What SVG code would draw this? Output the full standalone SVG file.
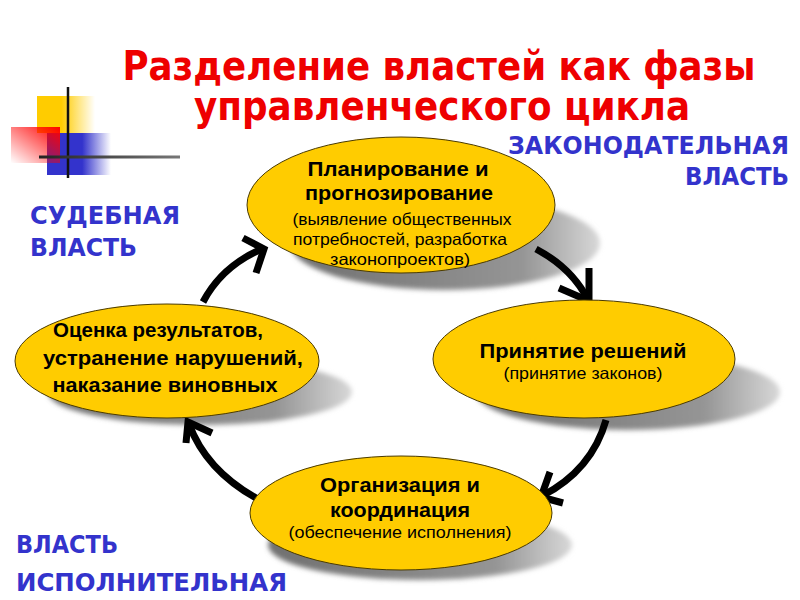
<svg xmlns="http://www.w3.org/2000/svg" width="800" height="600" viewBox="0 0 800 600">
<defs>
<linearGradient id="gY" x1="0" y1="0" x2="1" y2="0"><stop offset="0.42" stop-color="#FFCC00"/><stop offset="1" stop-color="#FFCC00" stop-opacity="0"/></linearGradient>
<linearGradient id="gB" x1="0" y1="0" x2="1" y2="0"><stop offset="0.55" stop-color="#3333CC"/><stop offset="1" stop-color="#3333CC" stop-opacity="0"/></linearGradient>
<linearGradient id="gR" x1="1" y1="0" x2="0" y2="1"><stop offset="0" stop-color="#FF0000"/><stop offset="1" stop-color="#FF0000" stop-opacity="0"/></linearGradient>
<linearGradient id="gL" x1="0" y1="0" x2="1" y2="0"><stop offset="0" stop-color="#222"/><stop offset="1" stop-color="#777"/></linearGradient>
<linearGradient id="gS" x1="0" y1="0" x2="1" y2="0"><stop offset="0" stop-color="#707070"/><stop offset="0.75" stop-color="#959595"/><stop offset="1" stop-color="#d8d8d8"/></linearGradient>
<filter id="blur" x="-10%" y="-20%" width="120%" height="140%"><feGaussianBlur stdDeviation="2.5"/></filter>
</defs>
<style>
.title{font-family:"DejaVu Sans Condensed","DejaVu Sans",sans-serif;font-weight:bold;font-size:41px;text-anchor:middle;fill:#EE0000}
.blue{font-family:"DejaVu Sans",Verdana,sans-serif;font-weight:bold;font-size:24px;fill:#3333CC}
.ell{fill:#FFCC00;stroke:#4a3a00;stroke-width:1}
.sh{fill:url(#gS);filter:url(#blur)}
.b{font-family:"Liberation Sans",Arial,sans-serif;font-weight:bold;font-size:20px;fill:#000;text-anchor:middle}
.n{font-family:"Liberation Sans",Arial,sans-serif;font-size:16.5px;fill:#000;text-anchor:middle}
.arr{fill:none;stroke:#000;stroke-width:7;stroke-linejoin:miter;stroke-linecap:butt}
</style>
<rect width="800" height="600" fill="#fff"/>
<g id="decor">
<rect x="37" y="96" width="58" height="37" fill="url(#gY)"/>
<rect x="47" y="133" width="64" height="42" fill="url(#gB)"/>
<rect x="11" y="127" width="49" height="36" fill="url(#gR)"/>
<line x1="68" y1="87" x2="68" y2="178" stroke="#111" stroke-width="2.5"/>
<rect x="39" y="155.5" width="141" height="3" fill="url(#gL)"/>
</g>
<g id="title">
<text class="title" x="439" y="80" textLength="633" lengthAdjust="spacingAndGlyphs">Разделение властей как фазы</text>
<text class="title" x="442" y="120" textLength="496" lengthAdjust="spacingAndGlyphs">управленческого цикла</text>
</g>
<g id="labels">
<text class="blue" x="789" y="154" text-anchor="end" textLength="281" lengthAdjust="spacingAndGlyphs">ЗАКОНОДАТЕЛЬНАЯ</text>
<text class="blue" x="789" y="185" text-anchor="end" textLength="104" lengthAdjust="spacingAndGlyphs">ВЛАСТЬ</text>
<text class="blue" x="30" y="224" textLength="150" lengthAdjust="spacingAndGlyphs">СУДЕБНАЯ</text>
<text class="blue" x="30" y="256" textLength="107" lengthAdjust="spacingAndGlyphs">ВЛАСТЬ</text>
<text class="blue" x="16" y="553" textLength="102" lengthAdjust="spacingAndGlyphs">ВЛАСТЬ</text>
<text class="blue" x="16" y="591" textLength="271" lengthAdjust="spacingAndGlyphs">ИСПОЛНИТЕЛЬНАЯ</text>
</g>
<g id="shadows">
<ellipse class="sh" cx="445" cy="243" rx="155" ry="47"/>
<ellipse class="sh" cx="628" cy="392" rx="152" ry="38"/>
<ellipse class="sh" cx="200" cy="392" rx="152" ry="33"/>
<ellipse class="sh" cx="420" cy="545" rx="152" ry="35"/>
</g>
<g id="connectors">
<path class="arr" d="M203,302 Q222,266 262,249"/>
<path class="arr" d="M243,238 L264,249 L256,273"/>
<path class="arr" d="M536,249 Q572,268 588,300"/>
<path class="arr" d="M589,268 L589,301 L559,288"/>
<path class="arr" d="M606,420 Q592,470 542,496"/>
<path class="arr" d="M550,472 L541,497 L563,503"/>
<path class="arr" d="M256,498 Q206,470 189,424"/>
<path class="arr" d="M186,443 L188,422 L212,433"/>
</g>
<g id="node-plan">
<ellipse class="ell" cx="401" cy="205" rx="154" ry="68"/>
<text class="b" x="398" y="176" textLength="181" lengthAdjust="spacingAndGlyphs">Планирование  и</text>
<text class="b" x="399" y="200" textLength="188" lengthAdjust="spacingAndGlyphs">прогнозирование</text>
<text class="n" x="402" y="225" textLength="219" lengthAdjust="spacingAndGlyphs">(выявление общественных</text>
<text class="n" x="400" y="245" textLength="214" lengthAdjust="spacingAndGlyphs">потребностей, разработка</text>
<text class="n" x="400" y="265" textLength="140" lengthAdjust="spacingAndGlyphs">законопроектов)</text>
</g>
<g id="node-decision">
<ellipse class="ell" cx="584" cy="359" rx="151" ry="59"/>
<text class="b" x="583" y="358" textLength="207" lengthAdjust="spacingAndGlyphs">Принятие  решений</text>
<text class="n" x="583" y="379" textLength="159" lengthAdjust="spacingAndGlyphs">(принятие законов)</text>
</g>
<g id="node-eval">
<ellipse class="ell" cx="167" cy="361" rx="152" ry="57"/>
<text class="b" x="158" y="337" textLength="210" lengthAdjust="spacingAndGlyphs">Оценка результатов,</text>
<text class="b" x="173" y="365" textLength="260" lengthAdjust="spacingAndGlyphs">устранение  нарушений,</text>
<text class="b" x="165" y="392" textLength="225" lengthAdjust="spacingAndGlyphs">наказание  виновных</text>
</g>
<g id="node-org">
<ellipse class="ell" cx="401" cy="513" rx="151" ry="57"/>
<text class="b" x="400" y="492" textLength="160" lengthAdjust="spacingAndGlyphs">Организация  и</text>
<text class="b" x="400" y="517" textLength="140" lengthAdjust="spacingAndGlyphs">координация</text>
<text class="n" x="400" y="538" textLength="223" lengthAdjust="spacingAndGlyphs">(обеспечение исполнения)</text>
</g>
</svg>
